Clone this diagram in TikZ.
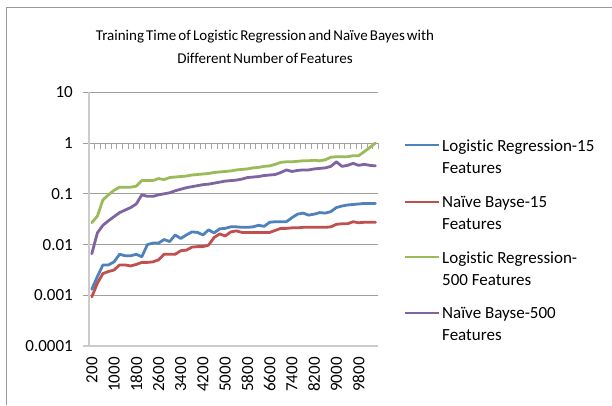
\documentclass[tikz,border=0pt]{standalone}
\usepackage{fontspec}
\setmainfont{Carlito}[Ligatures=NoCommon, RawFeature={-liga;-clig;-calt;-rlig}]
\definecolor{lrblue}{RGB}{79,129,189}
\definecolor{nbred}{RGB}{192,80,77}
\definecolor{lrgreen}{RGB}{155,187,89}
\definecolor{nbpurple}{RGB}{128,100,162}
\newcommand{\charttitlefont}{\fontsize{15}{23}\selectfont\spaceskip=0.14em plus 0.05em\relax}

\begin{document}
\begin{tikzpicture}[x=1pt, y=-1pt,
    grid line/.style={draw=gray!75, line width=0.8pt},
    axis line/.style={draw=gray!40, line width=1.6pt},
    tick line/.style={draw=gray!70, line width=0.7pt},
    series/.style={line width=2.8pt, line join=round, line cap=round},
    axis label/.style={font=\fontsize{17}{20}\selectfont, inner sep=0pt},
    legend text/.style={font=\fontsize{17}{22}\selectfont, align=left, anchor=north west, inner sep=0pt}]
    \useasboundingbox (0,0) rectangle (612,405);
    \draw[draw=gray!80, line width=1.5pt] (6.5,405) -- (6.5,7.5) -- (612,7.5);

    \node (title) [align=center, font=\charttitlefont] at (265,47)
        {Training Time of Logistic Regression and Naïve Bayes with\\Different Number of Features};

    \foreach \v/\t [count=\k] in {1/10, 0/1, -1/0.1, -2/0.01, -3/0.001} {
        \draw[grid line] (83,{143-50.8*\v}) -- (378,{143-50.8*\v});
        \node (ylab\k) [axis label, anchor=east] at (73,{143-50.8*\v}) {\t};
    }
    \node (ylab6) [axis label, anchor=east] at (73,346.2) {0.0001};
    \draw[axis line] (83,346.2) -- (378,346.2);
    \draw[axis line] (89,92.2) -- (89,346.2);
    \foreach \k in {1,...,52}
        \draw[tick line] ({89+5.56*\k},143) -- ++(0,6);

    \foreach \n [count=\k from 0] in {200,1000,1800,2600,3400,4200,5000,5800,6600,7400,8200,9000,9800}
        \node (xlab\k) [axis label, rotate=90, anchor=east] at ({91.8+22.24*\k},357) {\n};

    \begin{scope}[shift={(91.8,143)}, x=5.56pt, y=50.8pt]
        \draw[series, lrblue] (0,-2.88) \foreach \v [count=\i] in {-2.63,-2.40,-2.40,-2.34,-2.19,-2.22,-2.22,-2.19,-2.24,-2.00,-1.97,-1.97,-1.90,-1.94,-1.81,-1.88,-1.81,-1.75,-1.76,-1.81,-1.71,-1.77,-1.69,-1.68,-1.65,-1.65,-1.66,-1.66,-1.65,-1.62,-1.64,-1.56,-1.55,-1.55,-1.55,-1.47,-1.40,-1.38,-1.42,-1.40,-1.37,-1.38,-1.35,-1.27,-1.24,-1.22,-1.21,-1.20,-1.19,-1.19,-1.19} { -- (\i,\v) };
        \draw[series, nbred] (0,-3.03) \foreach \v [count=\i] in {-2.76,-2.57,-2.53,-2.50,-2.40,-2.40,-2.42,-2.39,-2.35,-2.35,-2.34,-2.30,-2.19,-2.19,-2.19,-2.12,-2.11,-2.05,-2.04,-2.04,-2.01,-1.86,-1.79,-1.83,-1.75,-1.73,-1.76,-1.76,-1.76,-1.76,-1.76,-1.76,-1.72,-1.68,-1.68,-1.67,-1.67,-1.66,-1.66,-1.66,-1.66,-1.66,-1.65,-1.60,-1.59,-1.59,-1.55,-1.57,-1.56,-1.56,-1.56} { -- (\i,\v) };
        \draw[series, lrgreen] (0,-1.57) \foreach \v [count=\i] in {-1.44,-1.12,-1.02,-0.93,-0.87,-0.87,-0.87,-0.85,-0.74,-0.74,-0.74,-0.70,-0.72,-0.68,-0.67,-0.66,-0.65,-0.63,-0.62,-0.61,-0.60,-0.58,-0.57,-0.56,-0.55,-0.53,-0.52,-0.51,-0.49,-0.48,-0.46,-0.45,-0.42,-0.38,-0.37,-0.37,-0.36,-0.35,-0.35,-0.34,-0.35,-0.33,-0.28,-0.27,-0.27,-0.27,-0.25,-0.25,-0.17,-0.09,0.0} { -- (\i,\v) };
        \draw[series, nbpurple] (0,-2.18) \foreach \v [count=\i] in {-1.77,-1.62,-1.53,-1.45,-1.37,-1.32,-1.27,-1.20,-1.02,-1.05,-1.05,-1.02,-1.00,-0.98,-0.94,-0.91,-0.88,-0.86,-0.84,-0.82,-0.81,-0.79,-0.77,-0.75,-0.74,-0.73,-0.71,-0.68,-0.67,-0.66,-0.64,-0.63,-0.62,-0.58,-0.53,-0.56,-0.54,-0.53,-0.53,-0.51,-0.50,-0.49,-0.46,-0.37,-0.46,-0.44,-0.40,-0.44,-0.42,-0.44,-0.45} { -- (\i,\v) };
    \end{scope}

    % legend
    \foreach \c/\y/\t [count=\k] in {lrblue/145/{Logistic Regression-15\\Features},
                                     nbred/202/{Naïve Bayse-15\\Features},
                                     lrgreen/257/{Logistic Regression-\\500 Features},
                                     nbpurple/313/{Naïve Bayse-500\\Features}} {
        \draw[series, \c, line cap=butt] (405,\y) coordinate (legA\k) -- (439,\y) coordinate (legB\k);
        \node (leg\k) [legend text] at (442,{\y-5.5}) {\t};
    }
\end{tikzpicture}
\end{document}
